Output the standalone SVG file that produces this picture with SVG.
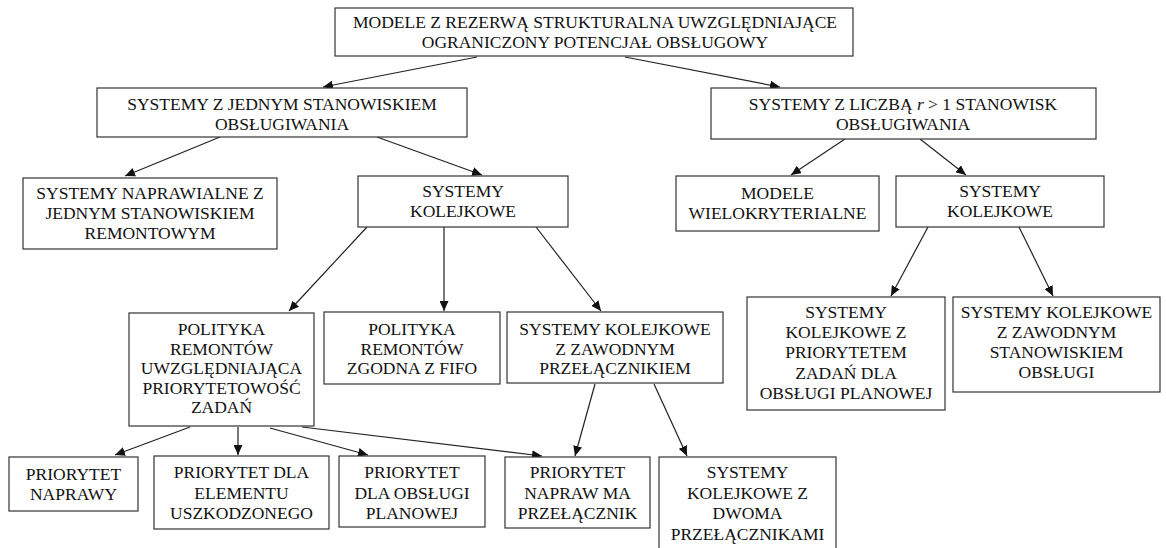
<svg xmlns="http://www.w3.org/2000/svg" width="1166" height="548" viewBox="0 0 1166 548">
  <defs>
    <marker id="arrow" markerUnits="userSpaceOnUse" markerWidth="11" markerHeight="9" refX="10" refY="4.5" orient="auto">
      <path d="M0,0 L10,4.5 L0,9 Z" fill="#111"/>
    </marker>
    <style>
      .box { fill: #fff; stroke: #333; stroke-width: 1.2; }
      text { font-family: 'Liberation Serif', 'DejaVu Serif', serif; font-size: 17.5px; fill: #111; text-anchor: middle; }
      .edge { stroke: #222; stroke-width: 1.2; fill: none; marker-end: url(#arrow); }
    </style>
  </defs>

  <rect x="0" y="0" width="1166" height="548" fill="#fff"/>

  <!-- connectors -->
  <g id="connectors">
    <line class="edge" x1="477" y1="57" x2="323" y2="87"/>
    <line class="edge" x1="625" y1="57" x2="780" y2="87"/>
    <line class="edge" x1="220" y1="137" x2="125" y2="176"/>
    <line class="edge" x1="377" y1="137" x2="482" y2="175"/>
    <line class="edge" x1="845" y1="139" x2="791" y2="175"/>
    <line class="edge" x1="920" y1="139" x2="966" y2="175"/>
    <line class="edge" x1="367" y1="227" x2="289" y2="311"/>
    <line class="edge" x1="444" y1="227" x2="444" y2="311"/>
    <line class="edge" x1="536" y1="227" x2="601" y2="311"/>
    <line class="edge" x1="928" y1="227" x2="891" y2="296"/>
    <line class="edge" x1="1019" y1="227" x2="1053" y2="296"/>
    <line class="edge" x1="190" y1="427" x2="115" y2="455"/>
    <line class="edge" x1="238" y1="427" x2="238" y2="455"/>
    <line class="edge" x1="270" y1="428" x2="368" y2="455"/>
    <line class="edge" x1="302" y1="427" x2="542" y2="456"/>
    <line class="edge" x1="595" y1="384" x2="575" y2="456"/>
    <line class="edge" x1="654" y1="384" x2="687" y2="456"/>
  </g>

  <g font-family="'Liberation Serif', 'DejaVu Serif', serif">
  <!-- level 1 -->
  <g id="root">
    <rect class="box" x="335" y="8" width="518" height="48"/>
    <text x="595" y="28">MODELE Z REZERWĄ STRUKTURALNA UWZGLĘDNIAJĄCE</text>
    <text x="595" y="48">OGRANICZONY POTENCJAŁ OBSŁUGOWY</text>
  </g>

  <!-- level 2 -->
  <g id="single-station">
    <rect class="box" x="97" y="88" width="370" height="49"/>
    <text x="282" y="110">SYSTEMY Z JEDNYM STANOWISKIEM</text>
    <text x="282" y="130">OBSŁUGIWANIA</text>
  </g>
  <g id="multi-station">
    <rect class="box" x="711" y="88" width="385" height="51"/>
    <text x="903" y="110">SYSTEMY Z LICZBĄ <tspan font-style="italic">r</tspan> &gt; 1 STANOWISK</text>
    <text x="903" y="130">OBSŁUGIWANIA</text>
  </g>

  <!-- level 3 -->
  <g id="repairable">
    <rect class="box" x="23" y="178" width="254" height="71"/>
    <text x="150" y="198.5">SYSTEMY NAPRAWIALNE Z</text>
    <text x="150" y="218.5">JEDNYM STANOWISKIEM</text>
    <text x="150" y="238.5">REMONTOWYM</text>
  </g>
  <g id="queue-single">
    <rect class="box" x="358" y="176" width="210" height="51"/>
    <text x="463" y="197">SYSTEMY</text>
    <text x="463" y="217">KOLEJKOWE</text>
  </g>
  <g id="multicriteria">
    <rect class="box" x="676" y="176" width="203" height="55"/>
    <text x="777.5" y="199">MODELE</text>
    <text x="777.5" y="219">WIELOKRYTERIALNE</text>
  </g>
  <g id="queue-multi">
    <rect class="box" x="896" y="176" width="208" height="51"/>
    <text x="1000" y="197">SYSTEMY</text>
    <text x="1000" y="217">KOLEJKOWE</text>
  </g>

  <!-- level 4 -->
  <g id="priority-policy">
    <rect class="box" x="129" y="313" width="185" height="113"/>
    <text x="221.5" y="335">POLITYKA</text>
    <text x="221.5" y="354.5">REMONTÓW</text>
    <text x="221.5" y="374">UWZGLĘDNIAJĄCA</text>
    <text x="221.5" y="393.5">PRIORYTETOWOŚĆ</text>
    <text x="221.5" y="413">ZADAŃ</text>
  </g>
  <g id="fifo-policy">
    <rect class="box" x="324" y="312" width="176" height="72"/>
    <text x="412" y="335">POLITYKA</text>
    <text x="412" y="354.5">REMONTÓW</text>
    <text x="412" y="374">ZGODNA Z FIFO</text>
  </g>
  <g id="unreliable-switch">
    <rect class="box" x="507" y="312" width="216" height="71"/>
    <text x="615" y="335">SYSTEMY KOLEJKOWE</text>
    <text x="615" y="354.5">Z ZAWODNYM</text>
    <text x="615" y="374">PRZEŁĄCZNIKIEM</text>
  </g>
  <g id="planned-priority">
    <rect class="box" x="747" y="297" width="198" height="113"/>
    <text x="846" y="318">SYSTEMY</text>
    <text x="846" y="338">KOLEJKOWE Z</text>
    <text x="846" y="358">PRIORYTETEM</text>
    <text x="846" y="378.5">ZADAŃ DLA</text>
    <text x="846" y="399">OBSŁUGI PLANOWEJ</text>
  </g>
  <g id="unreliable-station">
    <rect class="box" x="953" y="297" width="207" height="95"/>
    <text x="1056.5" y="318">SYSTEMY KOLEJKOWE</text>
    <text x="1056.5" y="338">Z ZAWODNYM</text>
    <text x="1056.5" y="358">STANOWISKIEM</text>
    <text x="1056.5" y="378">OBSŁUGI</text>
  </g>

  <!-- level 5 -->
  <g id="repair-priority">
    <rect class="box" x="9" y="457" width="129" height="54"/>
    <text x="73.5" y="480">PRIORYTET</text>
    <text x="73.5" y="500">NAPRAWY</text>
  </g>
  <g id="failed-element-priority">
    <rect class="box" x="154" y="456" width="175" height="73"/>
    <text x="241.5" y="478">PRIORYTET DLA</text>
    <text x="241.5" y="498.5">ELEMENTU</text>
    <text x="241.5" y="519">USZKODZONEGO</text>
  </g>
  <g id="planned-service-priority">
    <rect class="box" x="339" y="456" width="146" height="71"/>
    <text x="412" y="478">PRIORYTET</text>
    <text x="412" y="498.5">DLA OBSŁUGI</text>
    <text x="412" y="519">PLANOWEJ</text>
  </g>
  <g id="switch-repair-priority">
    <rect class="box" x="505" y="457" width="145" height="71"/>
    <text x="577.5" y="478">PRIORYTET</text>
    <text x="577.5" y="498.5">NAPRAW MA</text>
    <text x="577.5" y="519">PRZEŁĄCZNIK</text>
  </g>
  <g id="two-switches">
    <rect class="box" x="659" y="457" width="177" height="110"/>
    <text x="747.5" y="478">SYSTEMY</text>
    <text x="747.5" y="498.5">KOLEJKOWE Z</text>
    <text x="747.5" y="519">DWOMA</text>
    <text x="747.5" y="539.5">PRZEŁĄCZNIKAMI</text>
  </g>
  </g>
</svg>
